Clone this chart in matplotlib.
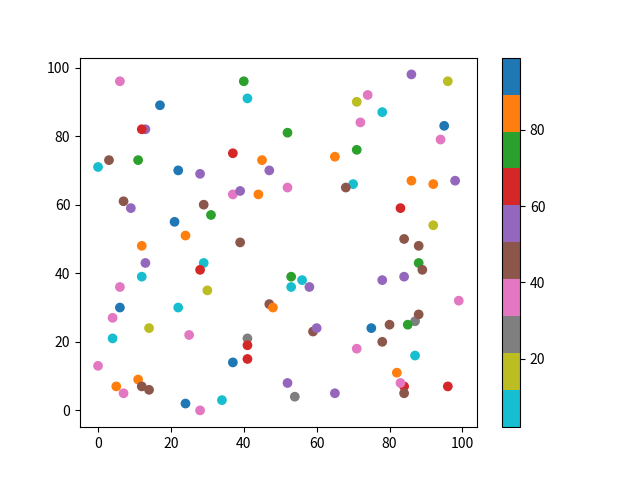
import matplotlib
matplotlib.use("Agg")
import matplotlib.pyplot as plt

plt.rcParams['font.family'] = ['Noto Sans CJK SC', 'DejaVu Sans']

# colour value for each band of the reversed tab10 map
CYAN, OLIVE, GRAY, PINK, BROWN = 7, 16, 26, 36, 45
PURPLE, RED, GREEN, ORANGE, BLUE = 55, 65, 75, 84, 94

# points (x, y, colour value)
x = [6, 40, 41, 17, 13, 12, 3, 0, 11, 37,
     45, 47, 22, 28, 37, 39, 44, 7, 9, 29,
     31, 21, 24, 12, 39, 86, 96, 74, 71, 78,
     72, 95, 94, 52, 71, 65, 52, 70, 68, 86,
     92, 98, 83, 92, 84, 88, 13, 12, 29, 28,
     6, 30, 6, 22, 47, 48, 4, 14, 4, 25,
     41, 41, 41, 37, 0, 11, 5, 12, 14, 7,
     34, 24, 28, 88, 89, 78, 84, 53, 56, 53,
     58, 99, 87, 88, 85, 80, 75, 59, 60, 78,
     71, 87, 82, 84, 83, 84, 96, 52, 54, 65]
y = [96, 96, 91, 89, 82, 82, 73, 71, 73, 75,
     73, 70, 70, 69, 63, 64, 63, 61, 59, 60,
     57, 55, 51, 48, 49, 98, 96, 92, 90, 87,
     84, 83, 79, 81, 76, 74, 65, 66, 65, 67,
     66, 67, 59, 54, 50, 48, 43, 39, 43, 41,
     36, 35, 30, 30, 31, 30, 27, 24, 21, 22,
     21, 19, 15, 14, 13, 9, 7, 7, 6, 5,
     3, 2, 0, 43, 41, 38, 39, 39, 38, 36,
     36, 32, 26, 28, 25, 25, 24, 23, 24, 20,
     18, 16, 11, 7, 8, 5, 7, 8, 4, 5]
c = [PINK, GREEN, CYAN, BLUE, PURPLE, RED, BROWN, CYAN, GREEN, RED,
     ORANGE, PURPLE, BLUE, PURPLE, PINK, PURPLE, ORANGE, BROWN, PURPLE, BROWN,
     GREEN, BLUE, ORANGE, ORANGE, BROWN, PURPLE, OLIVE, PINK, OLIVE, CYAN,
     PINK, 99, PINK, GREEN, GREEN, ORANGE, PINK, 2, BROWN, ORANGE,
     ORANGE, PURPLE, RED, OLIVE, BROWN, BROWN, PURPLE, CYAN, CYAN, RED,
     PINK, OLIVE, BLUE, CYAN, BROWN, ORANGE, PINK, OLIVE, CYAN, PINK,
     GRAY, RED, RED, BLUE, PINK, ORANGE, ORANGE, BROWN, BROWN, PINK,
     CYAN, BLUE, PINK, GREEN, BROWN, PURPLE, PURPLE, GREEN, CYAN, CYAN,
     PURPLE, PINK, GRAY, BROWN, GREEN, BROWN, BLUE, BROWN, PURPLE, BROWN,
     PINK, CYAN, ORANGE, RED, PINK, BROWN, RED, PURPLE, GRAY, PURPLE]

fig = plt.figure(figsize=(6.4, 4.8), dpi=100)
plt.scatter(x, y, c=c, cmap='tab10_r')
plt.colorbar()
plt.savefig("out.png")
